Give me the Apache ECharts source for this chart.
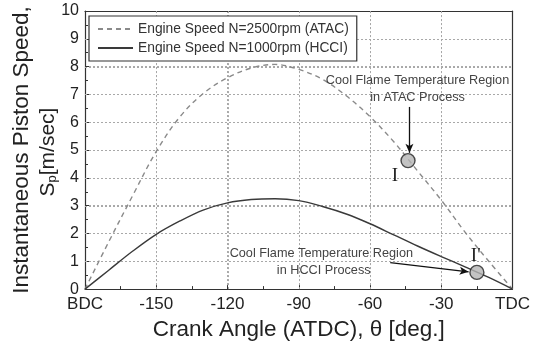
<!DOCTYPE html>
<html><head><meta charset="utf-8">
<script src="https://cdn.jsdelivr.net/npm/echarts@6/dist/echarts.min.js"></script>
<style>html,body{margin:0;padding:0;background:#fff}#c{width:533px;height:346px}</style>
</head><body><div id="c"></div>
<script>
// Crank angle (ATDC, deg)
const angles = [-180,-170,-160,-150,-140,-130,-120,-110,-100,-90,-80,-70,-60,-50,-40,-30,-20,-10,0];
// N=2500 rpm (ATAC), m/s
const atac   = [0,1.7,3.35,4.95,6.2,7.05,7.6,7.95,8.08,7.9,7.54,6.95,6.2,5.3,4.25,3.2,2.05,1.0,0];
// N=1000 rpm (HCCI), m/s
const hcci   = [0,0.68,1.36,1.97,2.45,2.85,3.1,3.22,3.25,3.18,2.97,2.7,2.35,1.95,1.55,1.17,0.8,0.42,0];
const xTickLabels = {'-180':'BDC','-150':'-150','-120':'-120','-90':'-90','-60':'-60','-30':'-30','0':'TDC'};
const xGridTicks = [-150,-120,-90,-60,-30];
const yGridTicks = [1,2,3,4,5,6,7,8,9];
const seriesNames = ['Engine Speed N=2500rpm (ATAC)','Engine Speed N=1000rpm (HCCI)'];
// cool flame points [angle, speed]
const pointI  = [-44, 4.62];
const pointI2 = [-15, 0.6];

const chart = echarts.init(document.getElementById('c'), null, {renderer:'canvas'});
const pair = (xs, ys) => xs.map((x,i)=>[x, ys[i]]);
const fontS = '"Liberation Sans", Arial, sans-serif';
const fontSerif = '"Liberation Serif", "Times New Roman", serif';
const gridLine = {show:true,lineStyle:{color:'#aaaaaa',type:[2,2],width:1}};
const frameAxis = {show:true,axisLine:{show:true,onZero:false,lineStyle:{color:'#333',width:1.2}},
  axisTick:{show:false},axisLabel:{show:false},splitLine:{show:false}};

chart.setOption({
  animation:false,
  backgroundColor:'#fff',
  grid:{left:85,right:17,top:11,bottom:54},
  legend:{
    left:89, top:16, orient:'vertical', itemWidth:35, itemHeight:12, itemGap:5, z:10,
    padding:[6,8,6,8], borderColor:'#333', borderWidth:1.2, backgroundColor:'#fff',
    itemStyle:{opacity:0},
    textStyle:{fontFamily:fontS,fontSize:13.8,color:'#333'},
    data:seriesNames
  },
  xAxis:[{
    type:'value', min:-180, max:0, interval:30,
    axisLine:{show:true,onZero:false,lineStyle:{color:'#333',width:1.2}},
    axisTick:{show:true,inside:true,length:4,lineStyle:{color:'#333'}},
    minorTick:{show:true,splitNumber:2,length:3,lineStyle:{color:'#333'}},
    splitLine:gridLine,
    axisLabel:{margin:7,fontFamily:fontS,fontSize:17,color:'#222',
      formatter:v=>xTickLabels[String(v)] ?? String(v)},
    name:'Crank Angle (ATDC), θ [deg.]', nameLocation:'middle', nameGap:25,
    nameTextStyle:{fontFamily:fontS,fontSize:22.5,color:'#222'}
  }, Object.assign({type:'value',position:'top',min:-180,max:0,interval:30}, frameAxis)],
  yAxis:[{
    type:'value', min:0, max:10, interval:1,
    axisLine:{show:true,onZero:false,lineStyle:{color:'#333',width:1.2}},
    axisTick:{show:true,inside:true,length:4,lineStyle:{color:'#333'}},
    minorTick:{show:true,splitNumber:2,length:3,lineStyle:{color:'#333'}},
    splitLine:gridLine,
    axisLabel:{margin:6,fontFamily:fontS,fontSize:16,color:'#222'}
  }, Object.assign({type:'value',position:'right',min:0,max:10,interval:1}, frameAxis)],
  series:[
    {name:seriesNames[0],type:'line',smooth:0.35,symbol:'none',data:pair(angles,atac),
     lineStyle:{color:'#8a8a8a',width:1.4,type:[5,4]},itemStyle:{color:'#8a8a8a'},z:3},
    {name:seriesNames[1],type:'line',smooth:0.35,symbol:'none',data:pair(angles,hcci),
     lineStyle:{color:'#3a3a3a',width:1.4},itemStyle:{color:'#3a3a3a'},z:3,
     markLine:{silent:true,symbol:['none','arrow'],symbolSize:[6,9],
       lineStyle:{color:'#111',width:1.3,type:'solid'},label:{show:false},
       data:[
         [{coord:[-43.4,6.55]},{coord:[-43.4,4.9]}],
         [{coord:[-51.5,0.95]},{coord:[-18.5,0.62]}]
       ]}},
    {name:'points',type:'scatter',symbol:'circle',symbolSize:14,data:[pointI,pointI2],
     itemStyle:{color:'#b4b4b4',borderColor:'#222',borderWidth:1.4},z:5}
  ]
});

function px(p){return chart.convertToPixel({xAxisIndex:0,yAxisIndex:0},p);}
const t1 = px([-40,7.5]), t2 = px([-40,6.88]);
const h1 = px([-80.5,1.28]), h2 = px([-79.5,0.68]);
const l1 = px([-49.5,4.05]), l2 = px([-15.5,1.2]);
const annStyle = {fontFamily:fontS,fontSize:12.7,fill:'#444',align:'center',verticalAlign:'middle'};
const gridGraphics = [];
const snap = v => Math.round(v) + 0.5;
xGridTicks.forEach(v=>{
  const a = px([v,0]), b = px([v,10]);
  gridGraphics.push({type:'line',z:1,silent:true,
    shape:{x1:snap(a[0]),y1:a[1],x2:snap(b[0]),y2:b[1]},
    style:{stroke:'#a8a8a8',lineWidth:1,lineDash:[2,2]}});
});
yGridTicks.forEach(v=>{
  const a = px([-180,v]), b = px([0,v]);
  gridGraphics.push({type:'line',z:1,silent:true,
    shape:{x1:a[0],y1:snap(a[1]),x2:b[0],y2:snap(b[1])},
    style:{stroke:'#a8a8a8',lineWidth:1,lineDash:[2,2]}});
});
chart.setOption({graphic:gridGraphics.concat([
  {type:'text',z:20,x:t1[0],y:t1[1],style:Object.assign({text:'Cool Flame Temperature Region'},annStyle)},
  {type:'text',z:20,x:t2[0],y:t2[1],style:Object.assign({text:'in ATAC Process'},annStyle)},
  {type:'text',z:20,x:h1[0],y:h1[1],style:Object.assign({text:'Cool Flame Temperature Region'},annStyle)},
  {type:'text',z:20,x:h2[0],y:h2[1],style:Object.assign({text:'in HCCI Process'},annStyle)},
  {type:'text',z:20,x:l1[0],y:l1[1],style:{text:'I',fontFamily:fontSerif,fontSize:19,fill:'#222',align:'center',verticalAlign:'middle'}},
  {type:'text',z:20,x:l2[0],y:l2[1],style:{text:"I'",fontFamily:fontSerif,fontSize:19,fill:'#222',align:'center',verticalAlign:'middle'}},
  {type:'text',z:20,x:22,y:150,rotation:Math.PI/2,
   style:{text:'Instantaneous Piston Speed,',fontFamily:fontS,fontSize:22.5,fill:'#222',align:'center',verticalAlign:'middle'}},
  {type:'text',z:20,x:48,y:152,rotation:Math.PI/2,
   style:{text:'{b|S}{s|p}{b|[m/sec]}',align:'center',verticalAlign:'middle',
     rich:{b:{fontFamily:fontS,fontSize:21,fill:'#222',color:'#222'},
           s:{fontFamily:fontS,fontSize:13,fill:'#222',color:'#222',verticalAlign:'bottom',padding:[8,0,0,0]}}}}
])});
</script></body></html>
